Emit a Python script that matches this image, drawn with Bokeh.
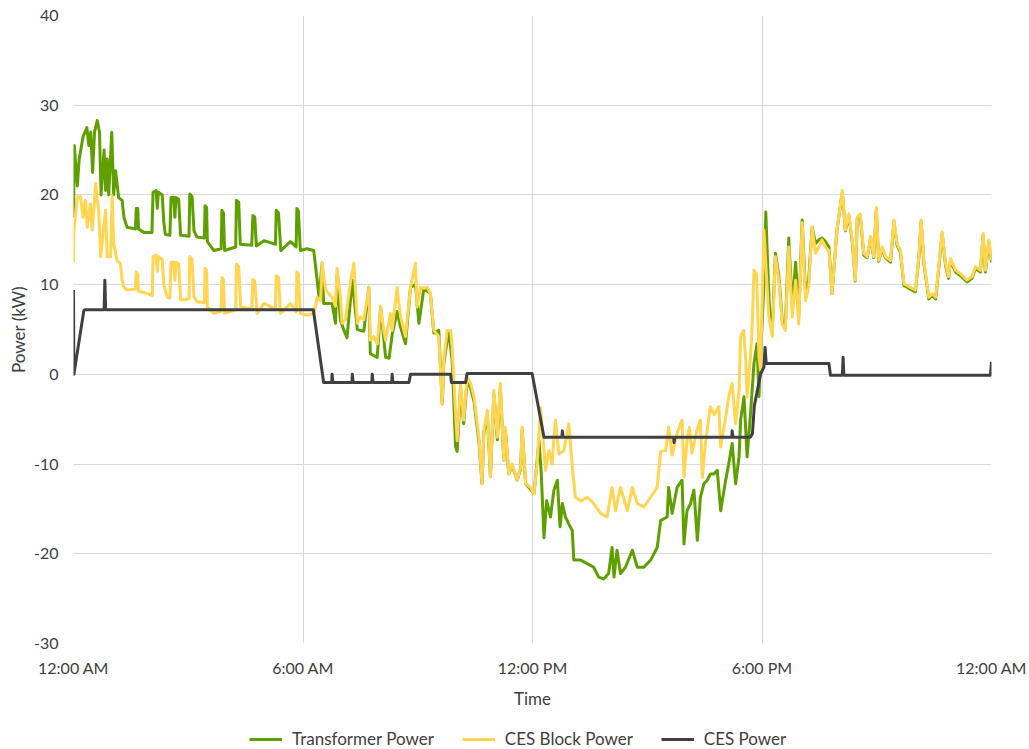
from bokeh.plotting import figure
from bokeh.models import Legend, LegendItem, FixedTicker
from bokeh.layouts import column
from bokeh.embed import file_html
from bokeh.resources import INLINE

# ---- data (hours since midnight, kW) ----
x_ticks = [0, 6, 12, 18, 24]
x_tick_labels = ["12:00 AM", "6:00 AM", "12:00 PM", "6:00 PM", "12:00 AM"]
y_ticks = [-30, -20, -10, 0, 10, 20, 30, 40]
y_tick_labels = ["-30", "-20", "-10", "0", "10", "20", "30", "40"]

series_names = ["Transformer Power", "CES Block Power", "CES Power"]

trans_t = [0.00, 0.02, 0.10, 0.15, 0.25, 0.35, 0.40, 0.45, 0.50, 0.55, 0.62, 0.68, 0.72, 0.80, 0.84, 0.88,
           0.92, 1.00, 1.05, 1.10, 1.18, 1.27, 1.32, 1.40,
           1.62, 1.64, 1.68, 1.70, 1.85, 2.05, 2.08, 2.16, 2.19, 2.22, 2.32, 2.36, 2.40, 2.52, 2.55, 2.62,
           2.65, 2.68, 2.75, 2.80, 3.02, 3.04, 3.10, 3.15, 3.23, 3.42, 3.44, 3.48, 3.50, 3.67, 3.86, 3.88,
           3.92, 3.95, 4.24, 4.26, 4.32, 4.36, 4.66, 4.69, 4.74, 4.78, 4.98, 5.28, 5.30, 5.36, 5.42, 5.67,
           5.82, 5.84, 5.88, 5.93, 6.10, 6.28,
           6.33, 6.42, 6.50, 6.54, 6.67, 6.76, 6.85, 6.89, 6.98, 7.07, 7.15, 7.29, 7.42, 7.50, 7.59, 7.72,
           7.76, 7.94, 8.03, 8.16, 8.25, 8.33, 8.46, 8.55, 8.68, 8.81, 8.94, 9.03, 9.16, 9.33, 9.42, 9.55,
           9.64, 9.68, 9.81,
           9.90, 9.99, 10.03, 10.12, 10.20, 10.29, 10.38, 10.47, 10.60, 10.68, 10.73, 10.82, 10.90, 10.99,
           11.08, 11.16, 11.25, 11.29, 11.38, 11.47, 11.60, 11.69, 11.73, 11.82, 11.95,
           12.04, 12.17, 12.23, 12.30, 12.37, 12.47, 12.56, 12.65, 12.72, 12.78, 12.86, 12.95, 13.04, 13.08,
           13.26, 13.43, 13.60, 13.73, 13.86, 13.99, 14.08, 14.13, 14.21, 14.30, 14.43, 14.61, 14.74, 14.91,
           15.09, 15.26,
           15.35, 15.52, 15.56, 15.65, 15.78, 15.91, 15.96, 16.04, 16.13, 16.22, 16.31, 16.39, 16.48, 16.57,
           16.65, 16.74, 16.83, 16.92, 17.05, 17.13, 17.22, 17.31, 17.40, 17.44, 17.53, 17.61, 17.70, 17.79,
           17.87, 17.92, 17.98, 18.05, 18.10, 18.15, 18.20,
           18.27, 18.35, 18.44, 18.53, 18.61, 18.70, 18.79, 18.88, 18.96, 19.05, 19.14, 19.22, 19.31, 19.40,
           19.49, 19.57, 19.66, 19.75, 19.83, 19.96, 20.10, 20.18, 20.27, 20.36, 20.44, 20.49, 20.57, 20.66,
           20.75, 20.84, 20.92, 20.99, 21.05, 21.14, 21.23, 21.36, 21.45, 21.53, 21.62, 21.71, 21.88, 22.01,
           22.10, 22.16, 22.23, 22.36, 22.45, 22.54, 22.62, 22.71, 22.80, 22.88, 22.93, 23.06, 23.19, 23.36,
           23.49, 23.58, 23.71, 23.78, 23.84, 23.93, 24.00]
trans_v = [17.5, 25.5, 21.0, 24.0, 26.5, 27.5, 25.5, 27.0, 22.5, 27.0, 28.3, 27.0, 20.0, 25.0, 20.5, 24.0,
           20.0, 27.0, 20.0, 22.7, 19.7, 19.4, 17.5, 16.4,
           16.2, 18.5, 18.5, 16.2, 15.8, 15.8, 20.3, 20.5, 18.5, 20.3, 20.0, 17.0, 15.6, 15.5, 19.7, 19.7,
           17.5, 19.7, 19.5, 15.5, 15.4, 20.1, 19.8, 16.0, 15.3, 15.2, 18.8, 18.6, 14.8, 13.8, 14.0, 18.3,
           18.0, 13.8, 14.2, 19.4, 19.2, 14.5, 14.4, 17.7, 17.5, 14.3, 14.9, 14.5, 18.3, 18.0, 13.8, 14.8,
           14.2, 18.5, 18.2, 13.8, 14.0, 13.8,
           12.0, 8.6, 12.4, 7.9, 7.9, 7.9, 5.7, 11.0, 6.0, 4.9, 4.1, 10.5, 5.0, 4.9, 4.8, 9.7,
           2.3, 1.9, 7.5, 1.9, 1.8, 4.4, 7.0, 5.3, 3.4, 9.7, 10.0, 5.7, 9.6, 9.0, 4.6, 4.9,
           -3.3, 1.2, 4.9,
           1.5, -8.1, -8.6, -1.5, -5.5, -0.8, -1.5, -3.0, -7.5, -12.2, -6.5, -4.5, -11.4, -2.2,
           -7.3, -1.4, -9.6, -6.2, -11.1, -10.2, -11.8, -10.5, -6.2, -12.2, -12.8,
           -13.3, -7.4, -11.1, -18.2, -14.1, -15.9, -12.9, -11.8, -17.0, -14.4, -15.9, -16.7, -17.4, -20.7,
           -20.7, -21.1, -21.5, -22.6, -22.8, -22.2, -19.3, -22.6, -19.6, -22.2, -21.5, -19.6, -21.5, -21.5,
           -20.7, -19.3,
           -16.3, -15.9, -12.6, -15.5, -12.6, -11.8, -18.9, -15.2, -14.4, -12.9, -18.5, -13.7, -12.2, -11.8,
           -11.1, -11.1, -10.7, -15.2, -11.8, -10.0, -7.7, -12.2, -9.2, -5.1, -2.5, -9.2, -4.4, 1.2,
           3.4, -2.5, 3.5, 10.0, 18.1, 12.0, 7.0,
           5.0, 13.5, 11.0, 6.0, 5.3, 15.2, 7.5, 12.5, 6.5, 17.2, 9.0, 10.5, 16.4, 14.6,
           15.0, 15.2, 14.8, 14.2, 9.0, 16.1, 20.3, 16.0, 17.7, 14.8, 10.4, 17.3, 17.7, 13.3,
           13.0, 15.2, 13.0, 18.4, 12.6, 14.0, 13.0, 12.5, 17.0, 14.4, 13.6, 9.9, 9.5, 9.2,
           12.9, 17.0, 12.5, 8.4, 8.8, 8.4, 11.8, 15.7, 12.1, 10.7, 12.7, 11.4, 11.0, 10.3,
           10.7, 11.8, 11.4, 15.5, 11.4, 14.8, 12.5]

block_t = [0.00, 0.01, 0.10, 0.18, 0.25, 0.31, 0.36, 0.44, 0.49, 0.58, 0.62, 0.66, 0.71, 0.79, 0.84, 0.88,
           0.97, 1.01, 1.05, 1.14, 1.23, 1.27, 1.32, 1.40,
           1.62, 1.64, 1.68, 1.70, 1.75, 1.93, 2.06, 2.08, 2.16, 2.19, 2.22, 2.32, 2.36, 2.45, 2.52, 2.55,
           2.62, 2.65, 2.68, 2.75, 2.80, 3.02, 3.04, 3.10, 3.15, 3.23, 3.42, 3.44, 3.48, 3.50, 3.67, 3.86,
           3.88, 3.92, 3.95, 4.24, 4.26, 4.32, 4.37, 4.66, 4.69, 4.74, 4.80, 4.98, 5.28, 5.30, 5.36, 5.41,
           5.67, 5.82, 5.84, 5.88, 5.93, 6.11, 6.28,
           6.33, 6.37, 6.46, 6.50, 6.59, 6.67, 6.76, 6.85, 6.89, 6.98, 7.02, 7.11, 7.24, 7.33, 7.42, 7.50,
           7.59, 7.72, 7.76, 7.85, 7.94, 8.03, 8.11, 8.16, 8.29, 8.33, 8.46, 8.55, 8.68, 8.81, 8.94, 8.98,
           9.07, 9.16, 9.25, 9.33, 9.42, 9.55, 9.64, 9.68, 9.77, 9.86,
           9.90, 9.99, 10.03, 10.12, 10.20, 10.29, 10.38, 10.47, 10.60, 10.68, 10.73, 10.82, 10.90, 10.99,
           11.08, 11.16, 11.25, 11.29, 11.38, 11.47, 11.60, 11.69, 11.73, 11.82, 11.95, 12.04, 12.12, 12.21,
           12.28, 12.34, 12.43, 12.51, 12.60, 12.69, 12.82, 12.95, 13.04, 13.12, 13.26, 13.43, 13.60, 13.78,
           13.95, 14.08, 14.17, 14.30, 14.48, 14.61, 14.74, 14.91, 15.09, 15.26,
           15.35, 15.48, 15.56, 15.65, 15.78, 15.91, 15.96, 16.04, 16.10, 16.17, 16.30, 16.39, 16.44, 16.52,
           16.65, 16.75, 16.87, 16.92, 17.05, 17.13, 17.22, 17.31, 17.40, 17.44, 17.52, 17.57, 17.61, 17.70,
           17.74, 17.79, 17.86, 17.92, 17.96, 18.05,
           18.13, 18.18, 18.27, 18.35, 18.44, 18.53, 18.61, 18.70, 18.79, 18.88, 18.96, 19.05, 19.14, 19.22,
           19.31, 19.40, 19.49, 19.57, 19.66, 19.75, 19.83, 19.96, 20.10, 20.18, 20.27, 20.36, 20.44, 20.49,
           20.57, 20.66, 20.75, 20.84, 20.92, 20.99, 21.05, 21.14, 21.23, 21.36, 21.45, 21.53, 21.62, 21.71,
           21.88, 22.01, 22.10, 22.16, 22.23, 22.36, 22.45, 22.54, 22.62, 22.71, 22.80, 22.88, 22.93, 23.06,
           23.19, 23.36, 23.49, 23.58, 23.71, 23.78, 23.84, 23.93, 24.00]
block_v = [12.5, 16.1, 19.8, 19.8, 17.5, 19.4, 16.4, 19.0, 16.1, 21.3, 19.5, 18.3, 13.1, 16.4, 18.3, 13.1,
           13.1, 19.9, 14.6, 12.7, 12.3, 10.5, 9.7, 9.4,
           9.5, 11.4, 11.2, 9.3, 9.2, 9.0, 8.8, 13.1, 13.3, 11.5, 13.1, 12.8, 10.0, 8.6, 8.5, 12.5,
           12.5, 10.5, 12.5, 12.3, 8.3, 8.4, 13.1, 12.8, 8.6, 8.1, 8.0, 11.8, 11.6, 7.5, 6.8, 7.0,
           10.8, 10.5, 6.8, 7.2, 12.3, 12.0, 7.5, 7.3, 10.6, 10.4, 6.8, 7.9, 7.3, 11.0, 10.8, 6.8,
           7.9, 7.0, 11.4, 11.2, 6.8, 6.6, 6.8,
           7.6, 8.6, 8.2, 12.4, 9.4, 9.0, 8.6, 7.6, 11.8, 8.6, 5.7, 6.1, 10.2, 12.4, 5.7, 6.4,
           6.1, 9.7, 3.8, 4.2, 3.4, 7.5, 4.9, 3.8, 6.8, 4.9, 9.7, 6.4, 4.2, 9.7, 12.4, 7.5,
           9.7, 9.6, 9.7, 9.0, 4.9, 4.2, -3.3, 1.6, 4.9, 4.9,
           3.0, -4.4, -7.4, -1.0, -5.1, -0.3, -1.0, -2.5, -7.0, -12.2, -6.2, -4.0, -11.4, -1.8,
           -7.0, -1.0, -9.6, -5.9, -11.1, -10.0, -11.8, -10.3, -5.9, -12.2, -12.6, -13.3, -10.0, -3.7,
           -7.4, -10.7, -8.5, -10.0, -5.1, -8.9, -8.5, -5.5, -10.3, -13.7, -14.1, -13.7, -14.4, -15.5,
           -15.9, -12.6, -15.2, -12.6, -15.2, -12.6, -14.4, -14.8, -13.7, -12.6,
           -8.6, -8.5, -5.9, -9.0, -6.6, -5.1, -11.4, -7.4, -5.9, -8.8, -6.2, -5.1, -11.5, -7.7,
           -3.6, -4.5, -3.6, -8.1, -4.8, -2.5, -1.0, -5.5, -1.8, 4.2, 4.9, 1.9, -2.5, 2.0,
           4.9, 11.6, 11.2, 2.0, 0.5, 16.1,
           10.1, 6.4, 4.2, 13.1, 10.5, 5.6, 4.9, 14.2, 6.4, 10.5, 5.6, 16.9, 8.2, 9.7,
           16.4, 13.5, 14.2, 15.0, 14.2, 13.8, 9.0, 16.1, 20.5, 16.1, 17.9, 15.0, 10.5, 17.5,
           17.9, 13.5, 13.1, 15.4, 13.1, 18.6, 12.7, 14.2, 13.1, 12.7, 17.2, 14.6, 13.8, 10.1,
           9.7, 9.4, 13.1, 17.2, 12.7, 8.6, 9.0, 8.6, 12.0, 15.9, 12.3, 10.9, 12.9, 11.6,
           11.2, 10.5, 10.9, 12.0, 11.6, 15.7, 11.6, 15.0, 12.7]

ces_t = [0.00, 0.01, 0.27, 0.30, 0.80, 0.82, 0.84, 6.27, 6.54, 6.75, 6.76, 6.78, 7.28, 7.29, 7.31,
         7.80, 7.81, 7.83, 8.32, 8.33, 8.35, 8.77, 8.81, 9.86, 9.88, 10.25, 10.29, 11.99, 12.30,
         12.77, 12.78, 12.80, 15.69, 15.70, 15.72, 17.21, 17.22, 17.24, 17.70, 17.75, 17.80, 17.96,
         18.05, 18.08, 18.11, 19.75, 19.79, 20.10, 20.12, 20.14, 23.97, 24.00]
ces_v = [9.4, 0.0, 7.1, 7.2, 7.2, 10.5, 7.2, 7.2, -0.9, -0.9, 0.0, -0.9, -0.9, 0.0, -0.9,
         -0.9, 0.0, -0.9, -0.9, 0.0, -0.9, -0.9, 0.0, 0.0, -0.9, -0.9, 0.1, 0.1, -7.0,
         -7.0, -6.3, -7.0, -7.0, -7.6, -7.0, -7.0, -6.3, -7.0, -7.0, -6.6, -3.5, 0.0,
         0.8, 3.0, 1.2, 1.2, -0.1, -0.1, 1.9, -0.1, -0.1, 1.4]

colors = ["#5FA000", "#FFD551", "#404040"]
FONT = "Lato"
TXT = "#404040"

# ---- main chart ----
p = figure(width=1029, height=718, output_backend="svg", toolbar_location=None,
           x_range=(0, 24), y_range=(-30, 40),
           min_border_left=73, min_border_right=38, min_border_top=15, min_border_bottom=75)
p.outline_line_color = None
p.background_fill_color = "white"
p.border_fill_color = "white"

r1 = p.line(trans_t, trans_v, line_color=colors[0], line_width=3, line_join="round")
r2 = p.line(block_t, block_v, line_color=colors[1], line_width=3, line_join="round")
r3 = p.line(ces_t, ces_v, line_color=colors[2], line_width=3, line_join="round")

p.xaxis.ticker = FixedTicker(ticks=x_ticks)
p.xaxis.major_label_overrides = {t: l for t, l in zip(x_ticks, x_tick_labels)}
p.yaxis.ticker = FixedTicker(ticks=y_ticks)
p.yaxis.major_label_overrides = {t: l for t, l in zip(y_ticks, y_tick_labels)}
p.xgrid.ticker = FixedTicker(ticks=x_ticks)
p.ygrid.ticker = FixedTicker(ticks=y_ticks)
p.grid.grid_line_color = "#D9D9D9"
p.grid.grid_line_width = 1

for ax in (p.xaxis[0], p.yaxis[0]):
    ax.axis_line_color = None
    ax.major_tick_line_color = None
    ax.minor_tick_line_color = None
    ax.major_tick_in = 0
    ax.major_tick_out = 0
    ax.minor_tick_in = 0
    ax.minor_tick_out = 0
    ax.major_label_text_font = FONT
    ax.major_label_text_font_size = "16px"
    ax.major_label_text_color = TXT
    ax.axis_label_text_font = FONT
    ax.axis_label_text_font_size = "17px"
    ax.axis_label_text_font_style = "normal"
    ax.axis_label_text_color = TXT

p.xaxis.axis_label = "Time"
p.xaxis.major_label_standoff = 14
p.xaxis.axis_label_standoff = 8
p.yaxis.axis_label = "Power (kW)"
p.yaxis.major_label_standoff = 15
p.yaxis.axis_label_standoff = 2

# ---- legend strip below the chart (proxy lines lie outside its view) ----
q = figure(width=1029, height=31, output_backend="svg", toolbar_location=None,
           x_range=(0, 1), y_range=(0, 1), x_axis_location=None, y_axis_location=None,
           min_border_left=73, min_border_right=38, min_border_top=0, min_border_bottom=0)
q.outline_line_color = None
q.grid.visible = False
q.border_fill_color = "white"
k1 = q.line([5, 6], [5, 5], line_color=colors[0], line_width=3)
k2 = q.line([5, 6], [5, 5], line_color=colors[1], line_width=3)
k3 = q.line([5, 6], [5, 5], line_color=colors[2], line_width=3)

legend = Legend(items=[LegendItem(label=series_names[0], renderers=[k1]),
                       LegendItem(label=series_names[1], renderers=[k2]),
                       LegendItem(label=series_names[2], renderers=[k3])],
                orientation="horizontal", location=(176, 0),
                label_text_font=FONT, label_text_font_size="17px", label_text_color=TXT,
                glyph_width=33, glyph_height=18, label_height=18, label_standoff=10, spacing=28,
                padding=0, margin=0, border_line_color=None, background_fill_alpha=0)
q.add_layout(legend)

open("out.html", "w").write(file_html(column(p, q, spacing=0), INLINE))
